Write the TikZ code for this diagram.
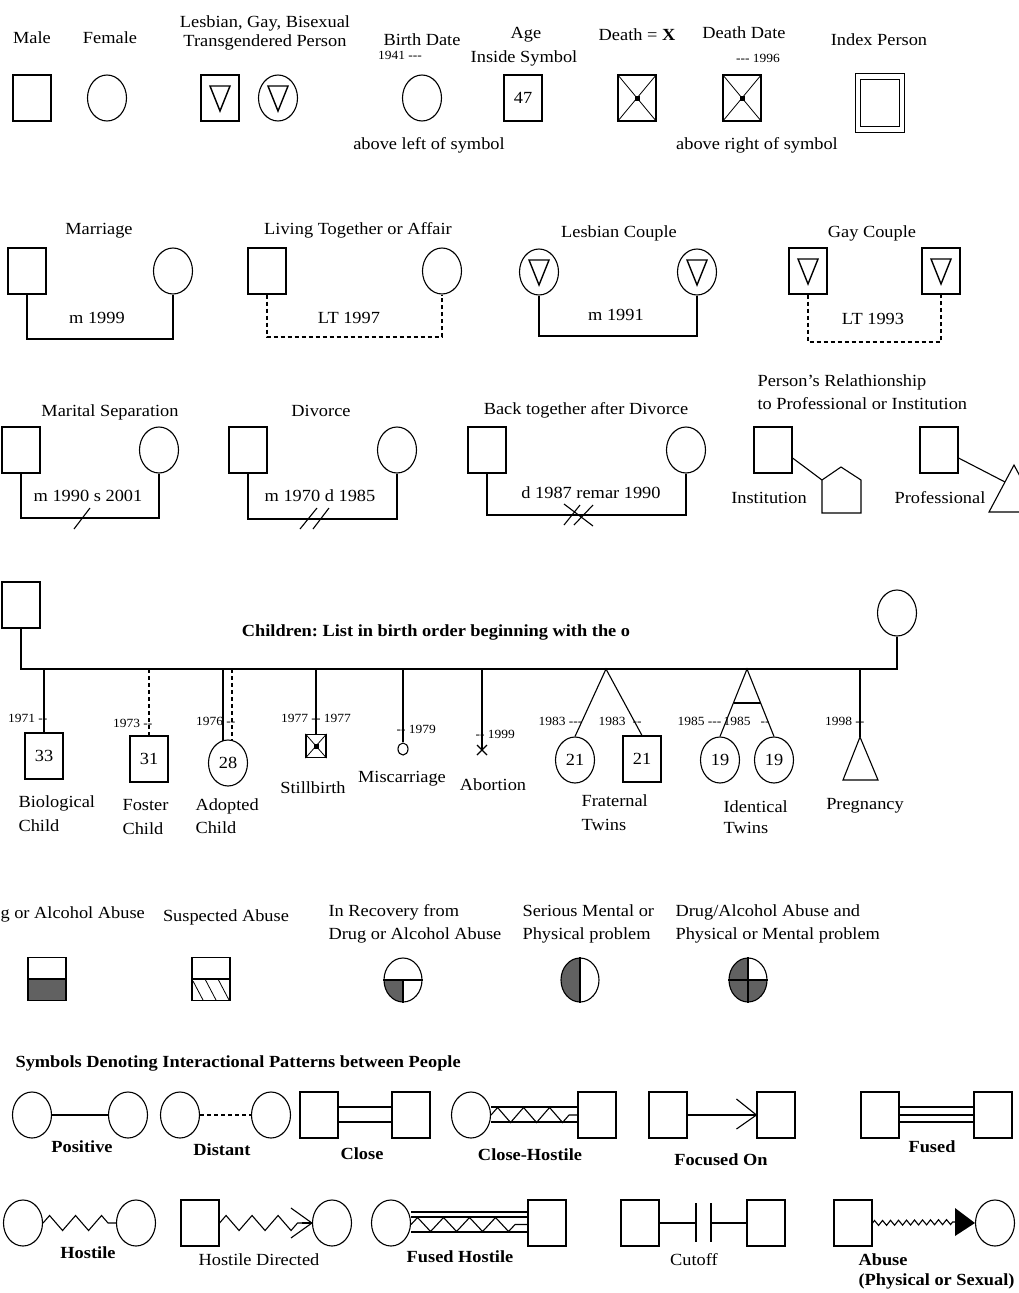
\documentclass[tikz,border=0pt]{standalone}
\usepackage{fontspec}
\setmainfont{Liberation Serif}[FakeStretch=1.08]
\usetikzlibrary{calc,decorations.pathmorphing,shapes.geometric}
\frenchspacing
\newcommand\lgbtri[1]{\draw[line width=1.4pt] ($(#1.center)+(-10,-12)$) -- ($(#1.center)+(10,-12)$) -- ($(#1.center)+(0,13)$) -- cycle;}
\newcommand\deathx[1]{\draw[line width=0.8pt] (#1.north west) -- (#1.south east) (#1.north east) -- (#1.south west); \fill ($(#1.center)+(-2.5,-2.5)$) rectangle ($(#1.center)+(2.5,2.5)$);}
\begin{document}
\frenchspacing
\begin{tikzpicture}[x=1pt,y=-1pt,line width=1.1pt,
  msym/.style={draw, rectangle, minimum width=38pt, minimum height=46pt, inner sep=0pt},
  fsym/.style={draw, ellipse, minimum width=39pt, minimum height=46pt, inner sep=0pt},
  lab/.style={anchor=base, inner sep=0pt, font=\fontsize{17}{20}\selectfont},
  labl/.style={lab, anchor=base west},
  blab/.style={lab, font=\fontsize{17}{20}\selectfont\bfseries},
  sm/.style={anchor=base, inner sep=0pt, font=\fontsize{12.5}{14}\selectfont},
  num/.style={font=\fontsize{17}{20}\selectfont},
  dsh/.style={dash pattern=on 4pt off 3pt},
  shade/.style={fill=black!62},
  zz/.style={decorate, decoration={zigzag, segment length=26pt, amplitude=7.5pt}}]
\fill[white] (0,0) rectangle (1019,1293);
\useasboundingbox (0,0) rectangle (1019,1293);

% ---------- Row 1 ----------
\node[lab] (tMale) at (32,43) {Male};
\node[msym] (male) at (32,98) {};
\node[lab] (tFemale) at (110,43) {Female};
\node[fsym] (female) at (107,98) {};
\node[lab] (tLgbA) at (265,27) {Lesbian, Gay, Bisexual};
\node[lab] (tLgbB) at (265,46) {Transgendered Person};
\node[msym] (lgbm) at (220,98) {}; \lgbtri{lgbm}
\node[fsym] (lgbf) at (278,98) {}; \lgbtri{lgbf}
\node[lab] (tBirth) at (422,45) {Birth Date};
\node[sm] (tBa) at (400,59) {1941 -{}-{}-};
\node[fsym] (birth) at (422,98) {};
\node[lab] (tBelowL) at (429,149) {above left of symbol};
\node[lab] (tAgeA) at (526,38) {Age};
\node[lab] (tAgeB) at (524,62) {Inside Symbol};
\node[msym,num] (age) at (523,98) {47};
\node[lab] (tDeath) at (637,40) {Death = \textbf{X}};
\node[msym] (death) at (637,98) {}; \deathx{death}
\node[lab] (tDD) at (744,38) {Death Date};
\node[sm] (tDa) at (758,62) {-{}-{}- 1996};
\node[msym] (dd) at (742,98) {}; \deathx{dd}
\node[lab] (tBelowR) at (757,149) {above right of symbol};
\node[lab] (tIndex) at (879,45) {Index Person};
\node[draw, line width=1.4pt, minimum width=49pt, minimum height=59pt, inner sep=0pt] (idxo) at (880,103) {};
\node[draw, line width=1.4pt, minimum width=39pt, minimum height=47pt, inner sep=0pt] (idxi) at (880,103) {};

% ---------- Row 2 ----------
\node[lab] (tMar) at (99,234) {Marriage};
\node[msym] (mar1) at (27,271) {};
\node[fsym] (mar2) at (173,271) {};
\draw (mar1.south) -- (mar1.south |- 0,339) -- (mar2.south |- 0,339) -- (mar2.south);
\node[lab] (tMarY) at (97,323) {m 1999};

\node[lab] (tLT) at (358,234) {Living Together or Affair};
\node[msym] (lt1) at (267,271) {};
\node[fsym] (lt2) at (442,271) {};
\draw[dsh] (lt1.south) -- (lt1.south |- 0,337) -- (lt2.south |- 0,337) -- (lt2.south);
\node[lab] (tLTY) at (349,323) {LT 1997};

\node[lab] (tLes) at (619,237) {Lesbian Couple};
\node[fsym] (les1) at (539,272) {}; \lgbtri{les1}
\node[fsym] (les2) at (697,272) {}; \lgbtri{les2}
\draw (les1.south) -- (les1.south |- 0,336) -- (les2.south |- 0,336) -- (les2.south);
\node[lab] (tLesY) at (616,320) {m 1991};

\node[lab] (tGay) at (872,237) {Gay Couple};
\node[msym] (gay1) at (808,271) {}; \lgbtri{gay1}
\node[msym] (gay2) at (941,271) {}; \lgbtri{gay2}
\draw[dsh] (gay1.south) -- (gay1.south |- 0,342) -- (gay2.south |- 0,342) -- (gay2.south);
\node[lab] (tGayY) at (873,324) {LT 1993};

% ---------- Row 3 ----------
\node[lab] (tSep) at (110,416) {Marital Separation};
\node[msym] (sep1) at (21,450) {};
\node[fsym] (sep2) at (159,450) {};
\draw (sep1.south) -- (sep1.south |- 0,518) -- (sep2.south |- 0,518) -- (sep2.south);
\node[lab] (tSepY) at (88,501) {m 1990 s 2001};
\draw (74,529) -- (90,508);

\node[lab] (tDiv) at (321,416) {Divorce};
\node[msym] (div1) at (248,450) {};
\node[fsym] (div2) at (397,450) {};
\draw (div1.south) -- (div1.south |- 0,519) -- (div2.south |- 0,519) -- (div2.south);
\node[lab] (tDivY) at (320,501) {m 1970 d 1985};
\draw (300,529) -- (317,508) (313,529) -- (329,508);

\node[lab] (tBack) at (586,414) {Back together after Divorce};
\node[msym] (back1) at (487,450) {};
\node[fsym] (back2) at (686,450) {};
\draw (back1.south) -- (back1.south |- 0,515) -- (back2.south |- 0,515) -- (back2.south);
\node[lab] (tBackY) at (591,498) {d 1987 remar 1990};
\draw (564,525) -- (580,505) (574,525) -- (593,505) (564,504) -- (593,526);

\node[labl] (tRelA) at (757,386) {Person's Relathionship};
\node[labl] (tRelB) at (757,409) {to Professional or Institution};
\node[msym] (inst) at (773,450) {};
\coordinate (pentL) at (822,480);
\draw (pentL) -- (841,467) -- (861,480) -- (861,513) -- (822,513) -- cycle;
\draw (inst.east |- 0,458) -- (pentL);
\node[lab] (tInst) at (769,503) {Institution};
\node[msym] (prof) at (939,450) {};
\coordinate (triL) at (1005,482);
\draw (1014,465) -- (1039,512) -- (989,512) -- cycle;
\draw (prof.east |- 0,458) -- (triL);
\node[lab] (tProf) at (940,503) {Professional};

% ---------- Row 4: children ----------
\node[msym] (father) at (21,605) {};
\node[fsym] (mother) at (897,613) {};
\draw (father.south) -- (father.south |- 0,669) -- (mother.south |- 0,669) -- (mother.south);
\node[blab] (tChildren) at (436,636) {Children: List in birth order beginning with the o};

\node[msym,num] (bio) at (44,756) {33};
\draw (bio.north |- 0,669) -- (bio.north);
\node[sm, anchor=base east] (tBioY) at (48,722) {1971 -{}-};
\node[labl] (tBioA) at (18,807) {Biological};
\node[labl] (tBioB) at (18,831) {Child};

\node[msym,num] (fos) at (149,759) {31};
\draw[dsh] (fos.north |- 0,669) -- (fos.north);
\node[sm, anchor=base east] (tFosY) at (153,727) {1973 -{}-};
\node[labl] (tFosA) at (122,810) {Foster};
\node[labl] (tFosB) at (122,834) {Child};

\node[fsym,num] (adp) at (228,763) {28};
\draw (223,669) -- (223,741);
\draw[dsh] (232,669) -- (232,741);
\node[sm, anchor=base east] (tAdpY) at (236,725) {1976 -{}-};
\node[labl] (tAdpA) at (195,810) {Adopted};
\node[labl] (tAdpB) at (195,833) {Child};

\node[draw, minimum width=20pt, minimum height=23pt, inner sep=0pt] (still) at (316,746) {};
\deathx{still}
\draw (still.north |- 0,669) -- (still.north);
\node[sm] (tStillY) at (316,722) {1977 -{}- 1977};
\node[lab] (tStill) at (313,793) {Stillbirth};

\node[draw, ellipse, minimum width=10pt, minimum height=12pt, inner sep=0pt] (misc) at (403,749) {};
\draw (misc.north |- 0,669) -- (misc.north);
\node[sm, anchor=base west] (tMiscY) at (396,733) {-{}- 1979};
\node[lab] (tMisc) at (402,782) {Miscarriage};

\coordinate (abort) at (482,750);
\draw (482,669) -- (abort);
\draw (477,745) -- (487,755) (487,745) -- (477,755);
\node[sm, anchor=base west] (tAbY) at (475,738) {-{}- 1999};
\node[lab] (tAb) at (493,790) {Abortion};

\coordinate (fapex) at (606,669);
\node[fsym,num] (ft1) at (575,760) {21};
\node[msym,num] (ft2) at (642,759) {21};
\draw (ft1.north) -- (fapex) -- (ft2.north);
\node[sm, anchor=base east] (tFtY1) at (583,725) {1983 -{}-{}-};
\node[sm, anchor=base west] (tFtY2) at (598,725) {1983\hspace{7pt}-{}-};
\node[labl] (tFtA) at (581,806) {Fraternal};
\node[labl] (tFtB) at (581,830) {Twins};

\coordinate (iapex) at (747,669);
\node[fsym,num] (it1) at (720,760) {19};
\node[fsym,num] (it2) at (774,760) {19};
\draw (it1.north) -- (iapex) -- (it2.north);
\draw (733.5,703) -- (760.5,703);
\node[sm, anchor=base east] (tItY1) at (722,725) {1985 -{}-{}-};
\node[sm, anchor=base west] (tItY2) at (723,725) {1985\hspace{10pt}-{}-};
\node[labl] (tItA) at (723,812) {Identical};
\node[labl] (tItB) at (723,833) {Twins};

\coordinate (pregtop) at (860,737);
\draw (860,669) -- (pregtop);
\draw (pregtop) -- (878,780) -- (843,780) -- cycle;
\node[sm, anchor=base east] (tPregY) at (865,725) {1998 -{}-};
\node[lab] (tPreg) at (865,809) {Pregnancy};

% ---------- Row 5: abuse / problems ----------
\node[labl] (tDrug) at (0,918) {g or Alcohol Abuse};
\fill[shade] (28,979) rectangle (66,1000.5);
\node[draw, minimum width=38pt, minimum height=43pt, inner sep=0pt] (drug) at (47,979) {};
\draw (drug.west) -- (drug.east);

\node[lab] (tSusp) at (226,921) {Suspected Abuse};
\node[draw, minimum width=38pt, minimum height=43pt, inner sep=0pt] (susp) at (211,979) {};
\draw (susp.west) -- (susp.east);
\draw[line width=0.8pt] (193,981) -- (203,1000) (205,979) -- (216,1000) (218,979) -- (229,1000);

\node[labl] (tRecA) at (328,916) {In Recovery from};
\node[labl] (tRecB) at (328,939) {Drug or Alcohol Abuse};
\begin{scope}
\clip (403,980) ellipse [x radius=19pt, y radius=22pt];
\fill[shade] (383,980) rectangle (403,1003);
\end{scope}
\node[draw, ellipse, minimum width=38pt, minimum height=44pt, inner sep=0pt] (rec) at (403,980) {};
\draw (rec.west) -- (rec.east) (rec.center) -- (rec.south);

\node[labl] (tSerA) at (522,916) {Serious Mental or};
\node[labl] (tSerB) at (522,939) {Physical problem};
\begin{scope}
\clip (580,980) ellipse [x radius=19pt, y radius=22pt];
\fill[shade] (560,957) rectangle (580,1003);
\end{scope}
\node[draw, ellipse, minimum width=38pt, minimum height=44pt, inner sep=0pt] (ser) at (580,980) {};
\draw (ser.north) -- (ser.south);

\node[labl] (tBothA) at (675,916) {Drug/Alcohol Abuse and};
\node[labl] (tBothB) at (675,939) {Physical or Mental problem};
\begin{scope}
\clip (748,980) ellipse [x radius=19pt, y radius=22pt];
\fill[shade] (728,957) rectangle (748,1003);
\fill[shade] (748,980) rectangle (768,1003);
\end{scope}
\node[draw, ellipse, minimum width=38pt, minimum height=44pt, inner sep=0pt] (both) at (748,980) {};
\draw (both.north) -- (both.south) (both.west) -- (both.east);

% ---------- Row 6: interactional patterns ----------
\node[blab, anchor=base west] (tSym) at (15,1067) {Symbols Denoting Interactional Patterns between People};

\node[fsym] (pos1) at (32,1115) {};
\node[fsym] (pos2) at (128,1115) {};
\draw (pos1) -- (pos2);
\node[blab] (tPos) at (82,1152) {Positive};

\node[fsym] (dis1) at (180,1115) {};
\node[fsym] (dis2) at (271,1115) {};
\draw[dsh] (dis1) -- (dis2);
\node[blab] (tDis) at (222,1155) {Distant};

\node[msym] (clo1) at (319,1115) {};
\node[msym] (clo2) at (411,1115) {};
\draw (clo1.east |- 0,1107) -- (clo2.west |- 0,1107);
\draw (clo1.east |- 0,1122) -- (clo2.west |- 0,1122);
\node[blab] (tClo) at (362,1159) {Close};

\node[fsym] (ch1) at (471,1115) {};
\node[msym] (ch2) at (597,1115) {};
\draw (ch1.east |- 0,1107) -- (ch2.west |- 0,1107);
\draw (ch1.east |- 0,1122) -- (ch2.west |- 0,1122);
\draw[zz] (ch1.east) -- (ch2.west);
\node[blab] (tCh) at (530,1160) {Close-Hostile};

\node[msym] (foc1) at (668,1115) {};
\node[msym] (foc2) at (776,1115) {};
\draw (foc1) -- (foc2.west);
\draw ($(foc2.west)+(-20,-16)$) -- (foc2.west) -- ($(foc2.west)+(-20,14)$);
\node[blab] (tFoc) at (721,1165) {Focused On};

\node[msym] (fus1) at (880,1115) {};
\node[msym] (fus2) at (993,1115) {};
\draw (fus1.east |- 0,1107) -- (fus2.west |- 0,1107);
\draw (fus1.east) -- (fus2.west);
\draw (fus1.east |- 0,1122) -- (fus2.west |- 0,1122);
\node[blab] (tFus) at (932,1152) {Fused};

\node[fsym] (hos1) at (23,1223) {};
\node[fsym] (hos2) at (136,1223) {};
\draw[zz] (hos1.east) -- (hos2.west);
\node[blab] (tHos) at (88,1258) {Hostile};

\node[msym] (hd1) at (200,1223) {};
\node[fsym] (hd2) at (332,1223) {};
\coordinate (hdz) at (302,1223);
\draw[zz] (hd1.east) -- (hdz);
\draw (hdz) -- (hd2.west);
\draw ($(hd2.west)+(-21,-15)$) -- (hd2.west) -- ($(hd2.west)+(-21,15)$);
\node[lab] (tHd) at (259,1265) {Hostile Directed};

\node[fsym] (fh1) at (391,1223) {};
\node[msym] (fh2) at (547,1223) {};
\draw (fh1.east |- 0,1212) -- (fh2.west |- 0,1212);
\draw (fh1.east |- 0,1217) -- (fh2.west |- 0,1217);
\draw (fh1.east |- 0,1232) -- (fh2.west |- 0,1232);
\draw[decorate, decoration={zigzag, segment length=26pt, amplitude=7pt}] (fh1.east |- 0,1224.5) -- (fh2.west |- 0,1224.5);
\node[blab] (tFh) at (460,1262) {Fused Hostile};

\node[msym] (cut1) at (640,1223) {};
\node[msym] (cut2) at (766,1223) {};
\coordinate (cutA) at (696,1223);
\coordinate (cutB) at (711,1223);
\draw (cut1.east) -- (cutA);
\draw (cutB) -- (cut2.west);
\draw (696,1203) -- (696,1242) (711,1203) -- (711,1242);
\node[lab] (tCut) at (694,1265) {Cutoff};

\node[msym] (ab1) at (853,1223) {};
\node[fsym] (ab2) at (995,1223) {};
\coordinate (abt) at (955,1222);
\draw[decorate, decoration={zigzag, segment length=8pt, amplitude=2.5pt}] (ab1.east) -- (abt);
\fill (955,1208) -- (ab2.west) -- (955,1236) -- cycle;
\node[blab, anchor=base west] (tAbA) at (858,1265) {Abuse};
\node[blab, anchor=base west] (tAbB) at (858,1285) {(Physical or Sexual)};
\end{tikzpicture}
\end{document}
